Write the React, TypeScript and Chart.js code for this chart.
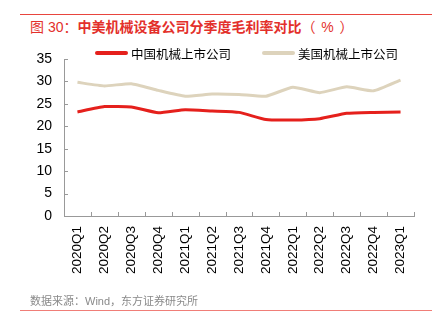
import React, { useEffect, useRef } from "react";
import { Chart, registerables } from "chart.js";

Chart.register(...registerables);

const categories = ["2020Q1","2020Q2","2020Q3","2020Q4","2021Q1","2021Q2","2021Q3","2021Q4","2022Q1","2022Q2","2022Q3","2022Q4","2023Q1"];
const chinaValues = [23.2, 24.4, 24.3, 23.0, 23.7, 23.4, 23.1, 21.5, 21.4, 21.7, 22.9, 23.1, 23.2];
const usValues = [29.8, 29.0, 29.5, 28.0, 26.7, 27.2, 27.1, 26.7, 28.7, 27.5, 28.8, 27.9, 30.3];
const seriesNames = ["中国机械上市公司", "美国机械上市公司"];
const titlePrefix = "图 30：";
const titleMain = "中美机械设备公司分季度毛利率对比";
const titleSuffix = ["（", "%", "）"];
const sourceText = "数据来源：Wind，东方证券研究所";

const RED = "#E5201C";
const BEIGE = "#DDD3BC";
const FONT = "'Liberation Sans', 'Noto Sans CJK SC', sans-serif";
const CJK = "'Noto Sans CJK SC', 'Liberation Sans', sans-serif";

const tickPlugin = {
  id: "innerTicks",
  afterDraw(chart: any) {
    const ctx = chart.ctx;
    const x = chart.scales.x;
    const y = chart.scales.y;
    ctx.save();
    ctx.strokeStyle = "#999";
    ctx.lineWidth = 1;
    const n = categories.length;
    const w = (x.right - x.left) / n;
    for (let i = 0; i <= n; i++) {
      const px = Math.round(x.left + i * w) + 0.5;
      ctx.beginPath();
      ctx.moveTo(px, y.bottom);
      ctx.lineTo(px, y.bottom - 4);
      ctx.stroke();
    }
    y.ticks.forEach((t: any) => {
      const py = Math.round(y.getPixelForValue(t.value)) + 0.5;
      ctx.beginPath();
      ctx.moveTo(x.left, py);
      ctx.lineTo(x.left + 4, py);
      ctx.stroke();
    });
    ctx.restore();
  },
};

export default function App() {
  const ref = useRef<HTMLCanvasElement>(null);
  useEffect(() => {
    document.body.style.margin = "0";
    const chart = new Chart(ref.current!, {
      type: "line",
      data: {
        labels: categories,
        datasets: [
          { label: seriesNames[0], data: chinaValues, borderColor: RED, backgroundColor: RED, borderWidth: 3, pointRadius: 0, tension: 0.15 },
          { label: seriesNames[1], data: usValues, borderColor: BEIGE, backgroundColor: BEIGE, borderWidth: 3, pointRadius: 0, tension: 0.15 },
        ],
      },
      options: {
        animation: false,
        responsive: false,
        maintainAspectRatio: false,
        layout: { padding: { top: 59, right: 29, left: 0, bottom: 0 } },
        plugins: { legend: { display: false }, tooltip: { enabled: false } },
        scales: {
          x: {
            offset: true,
            grid: { display: true, drawOnChartArea: false, drawTicks: false, offset: true },
            border: { display: true, color: "#999" },
            ticks: { color: "#000", font: { family: FONT, size: 13.5 }, maxRotation: 90, minRotation: 90, padding: 10, autoSkip: false },
            afterFit: (s: any) => { s.height = 113; },
          },
          y: {
            min: 0,
            max: 35,
            grid: { display: true, drawOnChartArea: false, drawTicks: false },
            border: { display: true, color: "#999" },
            ticks: { stepSize: 5, color: "#000", font: { family: FONT, size: 14 }, padding: 12 },
            afterFit: (s: any) => { s.width = 64; },
          },
        },
      },
      plugins: [tickPlugin],
    });
    return () => chart.destroy();
  }, []);

  const legendItem = (left: number, color: string, text: string) => (
    <div style={{ position: "absolute", left, top: 44, height: 18, display: "flex", alignItems: "center" }}>
      <div style={{ width: 33, height: 4, background: color, borderRadius: 2 }} />
      <span style={{ marginLeft: 3, fontFamily: FONT, fontSize: 12.5, color: "#000" }}>{text}</span>
    </div>
  );

  const box = (w: number, align: "left" | "center" | "right") => ({ display: "inline-block", width: w, textAlign: align } as React.CSSProperties);

  return (
    <div style={{ position: "fixed", left: 0, top: 0, width: 443, height: 329, background: "#fff" }}>
      <div style={{ position: "absolute", left: 20, top: 14, width: 412, height: 1, background: "#E8453E" }} />
      <div style={{ position: "absolute", left: 30, top: 16, fontFamily: CJK, fontSize: 14, color: "#E3302B", whiteSpace: "nowrap", lineHeight: "20px" }}>
        <span style={{ fontFamily: FONT }}>{titlePrefix}</span>
        <span style={{ fontWeight: "bold" }}>{titleMain}</span>
        <span style={box(14, "right")}>{titleSuffix[0]}</span>
        <span style={{ ...box(24, "center"), fontFamily: FONT }}>{titleSuffix[1]}</span>
        <span style={box(14, "left")}>{titleSuffix[2]}</span>
      </div>
      <canvas ref={ref} width={443} height={329} style={{ position: "absolute", left: 0, top: 0 }} />
      {legendItem(95, RED, seriesNames[0])}
      {legendItem(262, BEIGE, seriesNames[1])}
      <div style={{ position: "absolute", left: 30, top: 293, fontFamily: FONT, fontSize: 11, color: "#8A8A8A", whiteSpace: "nowrap", lineHeight: "16px" }}>{sourceText}</div>
      <div style={{ position: "absolute", left: 20, top: 310, width: 412, height: 1, background: "#F07E78" }} />
    </div>
  );
}
